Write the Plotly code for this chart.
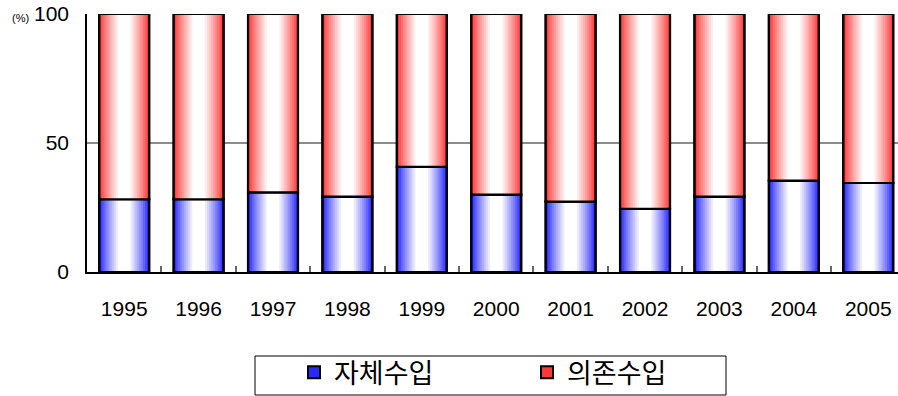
import plotly.graph_objects as go

# Revenue composition (%) by year
years = ["1995", "1996", "1997", "1998", "1999", "2000",
         "2001", "2002", "2003", "2004", "2005"]
own_revenue = [28.2, 28.2, 30.9, 29.2, 40.8, 30.0, 27.3, 24.5, 29.2, 35.4, 34.5]
dependent_revenue = [71.8, 71.8, 69.1, 70.8, 59.2, 70.0, 72.7, 75.5, 70.8, 64.6, 65.5]
series_names = ["자체수입", "의존수입"]

BAR_WIDTH = 0.672
N_BANDS = 12
EDGE_COLORS = [(40, 40, 255), (255, 55, 55)]


def band_color(rgb, k):
    # shade from the saturated edge toward white at the bar's centre
    f = min(1.0, (k / 9.0) ** 0.85)
    r, g, b = (round(c + (255 - c) * f) for c in rgb)
    return f"rgb({r},{g},{b})"


fig = go.Figure()

bases = [[0] * len(years), own_revenue]
values = [own_revenue, dependent_revenue]

for name, vals, base, rgb in zip(series_names, values, bases, EDGE_COLORS):
    # nested bars of shrinking width give a banded horizontal gradient
    for k in range(N_BANDS):
        fig.add_trace(go.Bar(
            x=years, y=vals, base=base,
            width=BAR_WIDTH * (1 - k / N_BANDS),
            marker=dict(color=band_color(rgb, k),
                        line=dict(color="black", width=2 if k == 0 else 0)),
            name=name, legendgroup=name, showlegend=(k == 0),
            hoverinfo="skip",
        ))
    # outline on top of the bands
    fig.add_trace(go.Bar(
        x=years, y=vals, base=base, width=BAR_WIDTH,
        marker=dict(color="rgba(0,0,0,0)", line=dict(color="black", width=2.2)),
        name=name, legendgroup=name, showlegend=False,
        hovertemplate="%{x}: %{y}%<extra>" + name + "</extra>",
    ))

fig.update_layout(
    width=898, height=396,
    margin=dict(l=87, r=0, t=14, b=124, autoexpand=False),
    barmode="overlay",
    plot_bgcolor="white", paper_bgcolor="white",
    font=dict(family="Liberation Sans", color="black"),
    showlegend=True,
    legend=dict(
        orientation="h", xanchor="left", yanchor="middle",
        x=(294 - 87) / 811, y=-0.39,
        entrywidth=188,
        font=dict(family="Noto Sans CJK KR", size=27, color="black"),
        bgcolor="rgba(0,0,0,0)",
        traceorder="normal",
    ),
    xaxis=dict(
        type="category",
        range=[-0.5, 10.40],
        tickson="boundaries", ticks="inside", ticklen=6,
        tickcolor="#666666", tickwidth=1.5,
        showline=True, linecolor="black", linewidth=2,
        showgrid=False,
        tickfont=dict(size=21, family="Liberation Sans"),
        ticklabelstandoff=17,
    ),
    yaxis=dict(
        range=[0, 100],
        tickvals=[0, 50, 100],
        showgrid=True, gridcolor="#8c8c8c", gridwidth=1.5,
        showline=True, linecolor="black", linewidth=1.5,
        zeroline=False, ticks="",
        tickfont=dict(size=21, family="Liberation Sans"),
        ticklabelstandoff=12,
    ),
    shapes=[
        # frame around the legend
        dict(type="rect", xref="paper", yref="paper",
             x0=(255 - 87) / 811, x1=(726 - 87) / 811,
             y0=(272 - 356) / 258, y1=(272 - 395) / 258,
             line=dict(color="black", width=1), fillcolor="rgba(0,0,0,0)"),
    ],
    annotations=[
        dict(text="(%)", xref="paper", yref="paper",
             x=-(87 - 10) / 811, y=1 - (18 - 14) / 258,
             xanchor="left", yanchor="middle", showarrow=False,
             font=dict(size=11, family="Liberation Sans")),
    ],
)

fig.write_html("out.html")
